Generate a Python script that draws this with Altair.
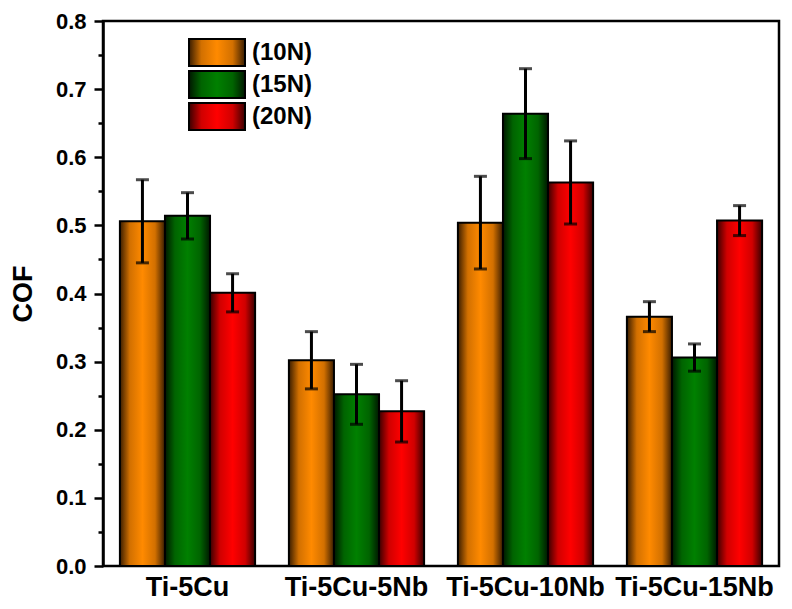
import altair as alt
import pandas as pd

# Coefficient of friction for each alloy under three normal loads
alloys = ["Ti-5Cu", "Ti-5Cu-5Nb", "Ti-5Cu-10Nb", "Ti-5Cu-15Nb"]
loads = ["(10N)", "(15N)", "(20N)"]
cof_10n = [0.506, 0.302, 0.504, 0.366]
cof_15n = [0.514, 0.252, 0.664, 0.306]
cof_20n = [0.401, 0.227, 0.563, 0.507]
err_10n = [0.061, 0.042, 0.068, 0.022]
err_15n = [0.034, 0.044, 0.066, 0.020]
err_20n = [0.028, 0.045, 0.061, 0.022]
major_ticks = [0.0, 0.1, 0.2, 0.3, 0.4, 0.5, 0.6, 0.7, 0.8]
minor_ticks = [0.05, 0.15, 0.25, 0.35, 0.45, 0.55, 0.65, 0.75]

# Edge / centre colours of the shaded bars
shade = {
    "(10N)": ("#3a1d00", "#d27000", "#ff8a00"),
    "(15N)": ("#001800", "#006400", "#008000"),
    "(20N)": ("#3a0000", "#d00000", "#ff0000"),
}

rows = []
for load, vals, errs in zip(loads, [cof_10n, cof_15n, cof_20n], [err_10n, err_15n, err_20n]):
    for alloy, v, e in zip(alloys, vals, errs):
        rows.append({"alloy": alloy, "load": load, "cof": v, "lo": v - e, "hi": v + e})
df = pd.DataFrame(rows)

FONT = "Liberation Sans"


def gradient(load):
    edge, mid, core = shade[load]
    return alt.LinearGradient(
        gradient="linear",
        x1=0, x2=1, y1=0, y2=0,
        stops=[
            alt.GradientStop(offset=0.0, color=edge),
            alt.GradientStop(offset=0.22, color=mid),
            alt.GradientStop(offset=0.5, color=core),
            alt.GradientStop(offset=0.78, color=mid),
            alt.GradientStop(offset=1.0, color=edge),
        ],
    )


x_enc = alt.X(
    "alloy:N",
    sort=alloys,
    scale=alt.Scale(paddingInner=0.2, paddingOuter=0.1),
    axis=alt.Axis(
        title=None, labelAngle=0, ticks=False, domain=False,
        labelFont=FONT, labelFontSize=27, labelFontWeight="bold",
        labelColor="black", labelPadding=8,
    ),
)
xoff_enc = alt.XOffset("load:N", sort=loads,
                       scale=alt.Scale(domain=loads, paddingInner=0, paddingOuter=0))
y_scale = alt.Scale(domain=[0, 0.8], nice=False, zero=True)
y_axis = alt.Axis(
    title="COF", orient="left", values=major_ticks, format=".1f",
    tickSize=9, tickWidth=2.5, tickColor="black",
    domainColor="black", domainWidth=2.5,
    labelFont=FONT, labelFontSize=22, labelFontWeight="bold",
    labelColor="black", labelPadding=8,
    titleFont=FONT, titleFontSize=27, titleFontWeight="bold",
    titleColor="black", titlePadding=18, grid=False,
)

base = alt.Chart(df)

bar_layers = []
for load in loads:
    bar_layers.append(
        base.transform_filter(alt.datum.load == load)
        .mark_bar(fill=gradient(load), stroke="black", strokeWidth=2)
        .encode(
            x=x_enc,
            xOffset=xoff_enc,
            y=alt.Y("cof:Q", scale=y_scale, axis=y_axis),
        )
    )

err_rule = base.mark_rule(color="black", strokeWidth=3).encode(
    x=x_enc, xOffset=xoff_enc,
    y=alt.Y("lo:Q", scale=y_scale, axis=y_axis), y2="hi:Q",
)
cap_hi = base.mark_tick(color="black", size=13, thickness=3).encode(
    x=x_enc, xOffset=xoff_enc, y=alt.Y("hi:Q", scale=y_scale, axis=y_axis),
)
cap_lo = base.mark_tick(color="black", size=13, thickness=3).encode(
    x=x_enc, xOffset=xoff_enc, y=alt.Y("lo:Q", scale=y_scale, axis=y_axis),
)

# Minor ticks on the left axis
minor = alt.Chart(pd.DataFrame({"v": minor_ticks})).mark_point(opacity=0).encode(
    y=alt.Y("v:Q", scale=alt.Scale(domain=[0, 0.8], nice=False),
            axis=alt.Axis(orient="left", values=minor_ticks, labels=False, title=None,
                          domain=False, tickSize=5, tickWidth=2.5,
                          tickColor="black", grid=False)),
)

# Legend: shaded swatches with load labels
legend_layers = []
for i, load in enumerate(loads):
    ldf = pd.DataFrame({"label": [load]})
    top = 18 + 32 * i
    legend_layers.append(
        alt.Chart(ldf).mark_rect(fill=gradient(load), stroke="black", strokeWidth=2).encode(
            x=alt.value(86), x2=alt.value(142), y=alt.value(top), y2=alt.value(top + 27)
        )
    )
    legend_layers.append(
        alt.Chart(ldf).mark_text(
            align="left", baseline="middle", font=FONT, fontSize=24,
            fontWeight="bold", color="black",
        ).encode(x=alt.value(149), y=alt.value(top + 14), text="label:N")
    )

main = alt.layer(*bar_layers, err_rule, cap_hi, cap_lo)

chart = (
    alt.layer(main, minor, *legend_layers)
    .resolve_scale(y="independent")
    .properties(
        width=676, height=545,
        autosize=alt.AutoSizeParams(type="none"),
        padding={"left": 103, "top": 21, "right": 13, "bottom": 43},
        background="white",
    )
    .configure_view(stroke="black", strokeWidth=2.5)
)

chart.save("out.html", embed_options={"renderer": "svg", "actions": False})
